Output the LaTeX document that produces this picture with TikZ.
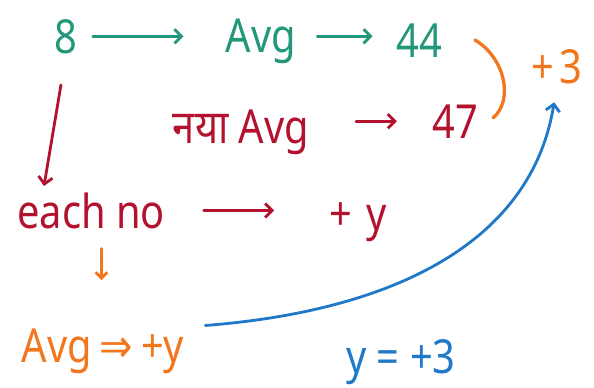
\documentclass[tikz,border=0pt]{standalone}
\usepackage{fontspec}
\setmainfont[FakeStretch=0.85]{Noto Sans}
\newfontfamily\devfont[Script=Devanagari,FakeStretch=0.85]{Noto Sans}
\newfontfamily\symfont[FakeStretch=0.85]{DejaVu Sans}
\usetikzlibrary{arrows.meta,positioning}
\definecolor{penGreen}{HTML}{23977A}
\definecolor{penRed}{HTML}{B3122E}
\definecolor{penOrange}{HTML}{F2761E}
\definecolor{penBlue}{HTML}{1F78C8}

\begin{document}
\begin{tikzpicture}[x=0.03cm, y=-0.03cm,
  word/.style={inner sep=1pt, anchor=base, font=\fontsize{40}{46}\selectfont},
  pen/.style={line width=2.4pt, line cap=round},
  arrow/.style={pen, -{Straight Barb[length=6pt,width=12pt]}},
  tiny arrow/.style={pen, -{Straight Barb[length=5pt,width=10pt]}},
]
  \useasboundingbox (0,0) rectangle (594,387);

  % top row
  \node[word, text=penGreen] (eight) at (66,53) {8};
  \node[word, text=penGreen] (avgTop) at (261,52) {Avg};
  \node[word, text=penGreen] (fortyFour) at (419,57) {44};
  \node[word, text=penOrange] (plusThree) at (557,83) {+\hspace{5pt}3};

  % new average row
  \node[word, text=penRed] (nayaAvg) at (241,143) {{\devfont नया} Avg};
  \node[word, text=penRed] (fortySeven) at (455,138) {47};

  % each number row
  \node[word, text=penRed] (eachNo) at (91,228) {each no};
  \node[word, text=penRed] (plusY) at (358,230) {+\hspace{12pt}y};

  % result
  \node[word, text=penOrange] (avgRes) at (103,362) {Avg\,{\symfont ⇒}\,+y};
  \node[word, text=penBlue] (yEq) at (401,373) {y = +3};

  \coordinate (dropEnd) at (44,186);

  \draw[arrow, penGreen, shorten <=12pt, shorten >=35pt] (eight.east) -- (avgTop.west |- eight.east);
  \draw[arrow, penGreen, shorten <=17pt, shorten >=19pt] (avgTop.east |- eight.east) -- (fortyFour.west |- eight.east);
  \draw[arrow, penRed, shorten <=26pt] (eight.south) -- (dropEnd);
  \draw[arrow, penRed, shorten <=39pt, shorten >=29pt] (nayaAvg.east |- fortySeven.west) -- (fortySeven.west);
  \draw[arrow, penRed, shorten <=32pt, shorten >=46pt] (eachNo.east) -- (plusY.west |- eachNo.east);
  \draw[tiny arrow, penOrange, shorten <=16pt, shorten >=40pt] ([xshift=9pt]eachNo.south) -- ([xshift=9pt]eachNo.south |- avgRes.north);

  % bracket joining 44 and 47
  \draw[pen, penOrange, line width=2.8pt] (475,40) .. controls (505,58) and (514,100) .. (493,118);

  \draw[arrow, penBlue, shorten <=17pt, shorten >=15pt] (avgRes.north east) .. controls (380,312) and (530,250) .. (plusThree.south);
\end{tikzpicture}
\end{document}
